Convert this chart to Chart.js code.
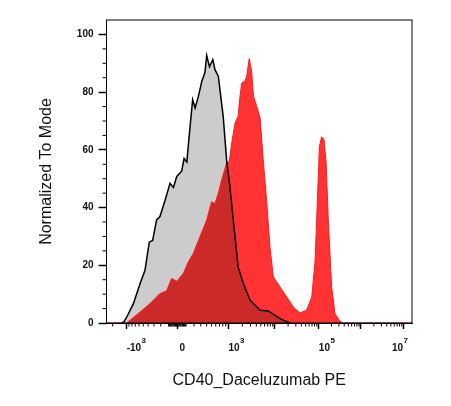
<!DOCTYPE html>
<html lang="en">
<head>
<meta charset="UTF-8">
<meta name="viewport" content="width=device-width, initial-scale=1.0">
<title>CD40_Daceluzumab PE</title>
<style>
    html, body {
        margin: 0;
        padding: 0;
        background: #fff;
    }
    .chart-box {
        position: relative;
        width: 451px;
        height: 406px;
    }
</style>
</head>
<body>
<div class="chart-box">
    <canvas id="histChart"></canvas>
</div>

<script src="https://cdn.jsdelivr.net/npm/chart.js"></script>
<script>
    // x is the display channel (0-1000 across the biexponential axis), y is % of mode
    const isoChannels = [50, 58, 66, 88, 110, 126, 140, 151, 164, 175, 192, 208, 219, 230, 246, 254, 263, 271, 282, 290,
        301, 312, 322, 328, 337, 348, 355, 366, 382, 393, 404, 415, 431, 448, 470, 503, 530, 568, 601];
    const isoValues = [0, 0.6, 2, 6.7, 13.7, 18.3, 28, 28.6, 35.7, 36.9, 42.6, 48.4, 47, 50.8, 52.6, 57, 55.8, 65.3, 77.4, 74.5,
        78.6, 83.8, 86.7, 92.7, 88.8, 91.3, 87.8, 85.5, 71.6, 56.6, 47.3, 35.7, 19.4, 13.7, 7.9, 4.4, 4.2, 1.5, 0];

    const stainChannels = [0, 66, 110, 142, 175, 197, 213, 230, 251, 268, 284, 306, 328, 344, 355, 366, 377, 393, 402, 410,
        421, 431, 437, 443, 453, 459, 467, 475, 481, 492, 503, 513, 524, 535, 546, 568, 590, 612, 633, 655,
        672, 683, 690, 697, 704, 712, 719, 726, 737, 748, 764, 775, 1000];
    const stainValues = [0, 0, 3.8, 6.7, 10.2, 11.2, 15.4, 14.5, 17.1, 21.2, 24.1, 29.9, 35.7, 42, 41.4, 45, 49.6, 55.4, 56, 62.4,
        69.3, 71.7, 78.6, 83.2, 83.8, 85.5, 91.6, 87.3, 78.6, 75, 71, 56.6, 42.6, 26.4, 16, 12.5, 9, 5.5, 3.5, 4.4,
        9, 21.8, 41.5, 61.2, 64.5, 63.6, 55.4, 35.7, 12.5, 3.2, 0.6, 0, 0];

    // axis decades: intensity value, where it sits on the channel axis, and its label (base + exponent)
    const xTickValues = [-1000, 0, 1000, 10000, 100000, 1000000, 10000000];
    const xTickChannels = [66, 232, 399, 551, 695, 833, 973];
    const xTickBase = ['-10', '0', '10', '', '10', '', '10'];
    const xTickExp = ['3', '', '3', '', '5', '', '7'];
    const yTickValues = [0, 20, 40, 60, 80, 100];
    const yMinorValues = [5, 10, 15, 25, 30, 35, 45, 50, 55, 65, 70, 75, 85, 90, 95];

    const fontFamily = "'Liberation Sans', Arial, sans-serif";

    // intensity -> channel, asinh around zero, log between decades
    function channelOf(v) {
        const c0 = xTickChannels[1];
        const half = xTickChannels[2] - xTickChannels[1];
        const a = Math.abs(v);
        if (a <= 1000) {
            return c0 + Math.sign(v) * half * Math.asinh(a / 300) / Math.asinh(1000 / 300);
        }
        if (v < 0) {
            return xTickChannels[0] - (xTickChannels[3] - xTickChannels[2]) * Math.log10(a / 1000);
        }
        const d = Math.floor(Math.log10(a));
        const lo = xTickChannels[d - 1];
        const hi = d < 7 ? xTickChannels[d] : lo + (lo - xTickChannels[d - 2]);
        return lo + (hi - lo) * Math.log10(a / Math.pow(10, d));
    }

    const xMinorValues = [];
    for (let v = -100; v <= 100; v += 10) xMinorValues.push(v);
    for (let k = 2; k <= 9; k++) xMinorValues.push(k * 100, -k * 100, -k * 1000);
    for (let d = 3; d <= 7; d++) {
        for (let k = 2; k <= 9; k++) xMinorValues.push(k * Math.pow(10, d));
    }

    const toPoints = (xs, ys) => xs.map((x, i) => ({ x: x, y: ys[i] }));
    const isoData = toPoints(isoChannels, isoValues);
    const stainData = toPoints(stainChannels, stainValues);

    // minor ticks, decade labels with superscripts, plot frame, multiply blend for the overlap
    const axisExtras = {
        id: 'axisExtras',
        afterDatasetDraw(chart, args) {
            if (args.index === 3) chart.ctx.globalCompositeOperation = 'multiply';
            if (args.index === 2) chart.ctx.globalCompositeOperation = 'source-over';
        },
        afterDraw(chart) {
            const { ctx, chartArea: a, scales } = chart;
            ctx.save();
            ctx.globalCompositeOperation = 'source-over';
            ctx.strokeStyle = '#000';
            ctx.lineWidth = 1;
            ctx.strokeRect(a.left, a.top, a.right - a.left, a.bottom - a.top);
            ctx.beginPath();
            xMinorValues.forEach(v => {
                const c = channelOf(v);
                if (c < 0 || c > 1000) return;
                const px = scales.x.getPixelForValue(c);
                ctx.moveTo(px, a.bottom);
                ctx.lineTo(px, a.bottom + 3.5);
            });
            yMinorValues.forEach(v => {
                const py = scales.y.getPixelForValue(v);
                ctx.moveTo(a.left, py);
                ctx.lineTo(a.left - 4, py);
            });
            ctx.stroke();

            ctx.fillStyle = '#111';
            ctx.textBaseline = 'alphabetic';
            const baseFont = 'bold 10px ' + fontFamily;
            const expFont = 'bold 8px ' + fontFamily;
            xTickBase.forEach((base, i) => {
                if (!base) return;
                const px = scales.x.getPixelForValue(xTickChannels[i]);
                const exp = xTickExp[i];
                ctx.font = baseFont;
                const wb = ctx.measureText(base).width;
                ctx.font = expFont;
                const we = exp ? ctx.measureText(exp).width + 0.5 : 0;
                let x0 = exp ? px : px + 5 - wb / 2;
                if (x0 + wb + we > a.right - 4) x0 = a.right - 4 - wb - we;
                ctx.font = baseFont;
                ctx.textAlign = 'left';
                ctx.fillText(base, x0, a.bottom + 27.5);
                if (exp) {
                    ctx.font = expFont;
                    ctx.fillText(exp, x0 + wb + 0.5, a.bottom + 20);
                }
            });
            ctx.restore();
        }
    };

    const ctx = document.getElementById('histChart').getContext('2d');
    const histChart = new Chart(ctx, {
        type: 'line',
        data: {
            datasets: [
                { label: 'Isotype', data: isoData, borderColor: '#000', borderWidth: 1.5, fill: false },
                { label: 'CD40', data: stainData, borderColor: '#ff1a1a', borderWidth: 1, fill: false },
                { label: 'CD40 fill', data: stainData, borderWidth: 0, backgroundColor: '#ff3333', fill: 'origin' },
                { label: 'Isotype fill', data: isoData, borderWidth: 0, backgroundColor: '#cccccc', fill: 'origin' }
            ]
        },
        options: {
            responsive: true,
            maintainAspectRatio: false,
            animation: false,
            layout: { padding: { top: 20, right: 39, bottom: 0, left: 0 } },
            elements: {
                point: { radius: 0 },
                line: { tension: 0 }
            },
            plugins: {
                legend: { display: false },
                tooltip: { enabled: false }
            },
            scales: {
                x: {
                    type: 'linear',
                    min: 0,
                    max: 1000,
                    afterBuildTicks: scale => { scale.ticks = xTickChannels.map(v => ({ value: v })); },
                    afterFit: scale => { scale.height = 83; },
                    grid: { drawOnChartArea: false, tickLength: 6, tickWidth: 1.5, tickColor: '#000' },
                    border: { color: '#000', width: 1 },
                    ticks: { display: false, autoSkip: false },
                    title: {
                        display: true,
                        text: 'CD40_Daceluzumab PE',
                        color: '#111',
                        font: { family: fontFamily, size: 16 },
                        padding: { top: 0, bottom: 16 }
                    }
                },
                y: {
                    min: 0,
                    max: 105,
                    afterBuildTicks: scale => { scale.ticks = yTickValues.map(v => ({ value: v })); },
                    afterFit: scale => { scale.width = 106.5; },
                    grid: { drawOnChartArea: false, tickLength: 8, tickWidth: 1.5, tickColor: '#000' },
                    border: { color: '#000', width: 1 },
                    ticks: {
                        padding: 5,
                        color: '#111',
                        font: { family: fontFamily, size: 10, weight: 'bold' }
                    },
                    title: {
                        display: true,
                        text: 'Normalized To Mode',
                        color: '#111',
                        font: { family: fontFamily, size: 16 },
                        padding: { top: 37, bottom: 0 }
                    }
                }
            }
        },
        plugins: [axisExtras]
    });
</script>
</body>
</html>
